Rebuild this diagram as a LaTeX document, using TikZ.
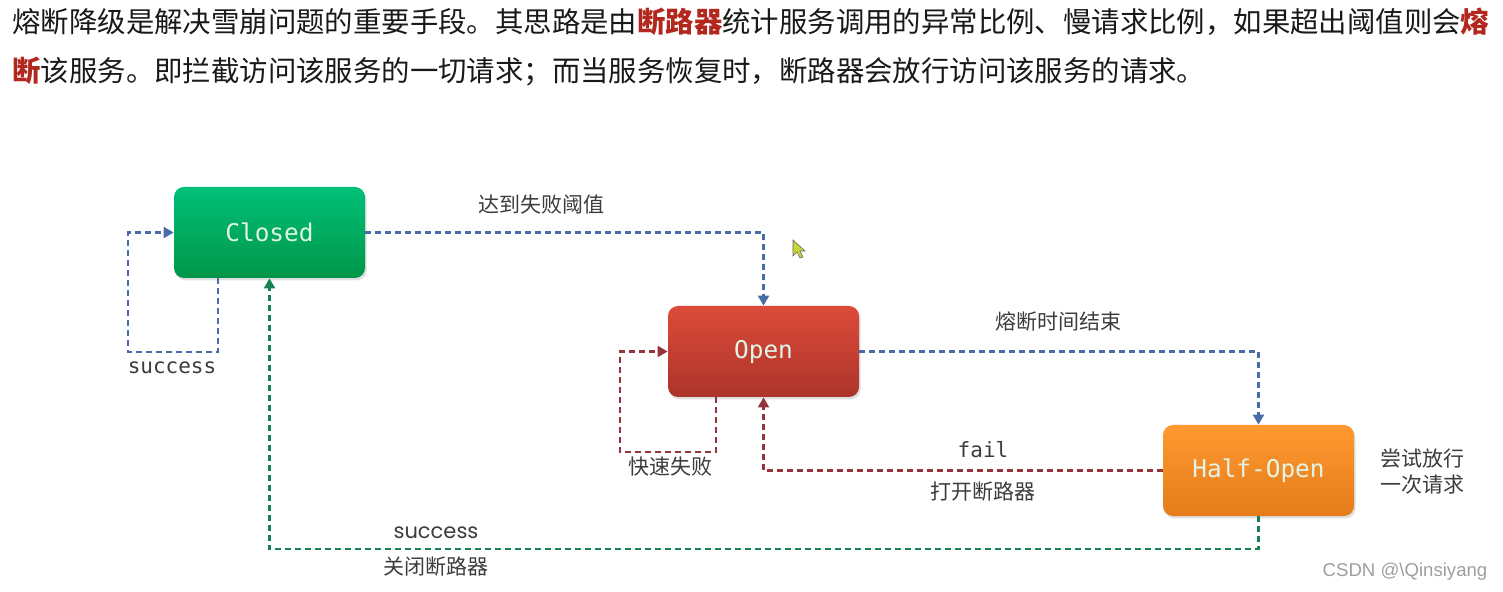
\documentclass[tikz,border=0pt]{standalone}
\usepackage{fontspec}
\setmainfont{Noto Sans CJK SC}
\newfontfamily\cjk{Noto Sans CJK SC}
\newfontfamily\mono{DejaVu Sans Mono}
\newfontfamily\latin{Poppins}
\newfontfamily\marque{Liberation Sans}
\usetikzlibrary{arrows.meta,positioning,shadows,calc}
\definecolor{vertHaut}{RGB}{0,192,120}
\definecolor{vertBas}{RGB}{0,150,72}
\definecolor{rougeHaut}{RGB}{220,75,58}
\definecolor{rougeBas}{RGB}{172,52,42}
\definecolor{orangeHaut}{RGB}{255,153,48}
\definecolor{orangeBas}{RGB}{228,124,26}
\definecolor{bleu}{RGB}{72,108,168}
\definecolor{rougefonce}{RGB}{150,52,62}
\definecolor{vertfonce}{RGB}{22,130,82}
\definecolor{gris}{RGB}{60,60,60}
\definecolor{rougetitre}{RGB}{178,40,30}
\definecolor{texteclair}{RGB}{225,245,230}
\tikzset{
  etat/.style={rounded corners=5pt,minimum width=95.5pt,minimum height=45.5pt,
               font=\mono\fontsize{12.2}{14}\selectfont,
               drop shadow={opacity=0.25,shadow xshift=0.8pt,shadow yshift=-1.2pt}},
  fleche/.style={-{Triangle[length=5pt,width=5.5pt]},line width=1.1pt,
                 dash pattern=on 3pt off 2pt},
  etiquette/.style={font=\cjk\fontsize{10.5}{12}\selectfont,text=gris,inner sep=1pt},
}
\begin{document}
\begin{tikzpicture}[x=0.5pt,y=-0.5pt,
  titre/.style={anchor=west,inner sep=0pt,font=\cjk\fontsize{14.2}{16}\selectfont,text=black!90},
  code/.style={font=\mono\fontsize{10.5}{12}\selectfont,text=gris,inner sep=1pt}]
  \useasboundingbox (0,0) rectangle (1503,592);
  \node[titre] (ligneA) at (12,22) {熔断降级是解决雪崩问题的重要手段。其思路是由\textcolor{rougetitre}{\bfseries 断路器}统计服务调用的异常比例、慢请求比例，如果超出阈值则会\textcolor{rougetitre}{\bfseries 熔}};
  \node[titre] (ligneB) at (12,72) {\textcolor{rougetitre}{\bfseries 断}该服务。即拦截访问该服务的一切请求；而当服务恢复时，断路器会放行访问该服务的请求。};

  \node[etat,top color=vertHaut,bottom color=vertBas,text=texteclair] (closed) at (269.5,232.5) {Closed};
  \node[etat,top color=rougeHaut,bottom color=rougeBas,text=texteclair] (open) at (763.5,351.5) {Open};
  \node[etat,top color=orangeHaut,bottom color=orangeBas,text=texteclair] (half) at (1258.5,470.5) {Half-Open};

  \coordinate (clA) at (218,352);
  \coordinate (clB) at (128,352);
  \coordinate (olA) at (716,452);
  \coordinate (olB) at (620,452);
  \coordinate (bas) at (0,549);

  \draw[fleche,bleu] (closed.south -| clA) |- (clB) |- (closed.west);
  \draw[fleche,bleu] (closed.east) -| (open.north);
  \draw[fleche,rougefonce] (open.south -| olA) |- (olB) |- (open.west);
  \draw[fleche,bleu] (open.east) -| (half.north);
  \draw[fleche,rougefonce] (half.west) -| (open.south);
  \draw[fleche,vertfonce] (half.south) -- (half.south |- bas) -| (closed.south);

  \node[code] (succesA) at (172,368) {success};
  \node[etiquette] (seuil) at (541,205) {达到失败阈值};
  \node[etiquette] (rapide) at (670,467) {快速失败};
  \node[etiquette] (fin) at (1058,322) {熔断时间结束};
  \node[code] (echec) at (983,450) {fail};
  \node[etiquette] (ouvrir) at (983,492) {打开断路器};
  \node[font=\latin\fontsize{10.5}{12}\selectfont,text=gris,inner sep=1pt] (succesB) at (436,533) {success};
  \node[etiquette] (fermer) at (436,567) {关闭断路器};
  \node[etiquette,align=left,font=\cjk\fontsize{10.5}{13}\selectfont] (essai) at (1422,472) {尝试放行\\一次请求};
  \node[font=\marque\fontsize{9.3}{11}\selectfont,text=black!38,inner sep=0pt] (marque) at (1405,572) {CSDN @\textbackslash Qinsiyang};

  \filldraw[fill=yellow!80!green!90!black!90,draw=black!60,line width=0.3pt]
    (793,240) -- (793,256) -- (797,252) -- (800,258) -- (803,257) -- (800,251) -- (805,251) -- cycle;
\end{tikzpicture}
\end{document}
